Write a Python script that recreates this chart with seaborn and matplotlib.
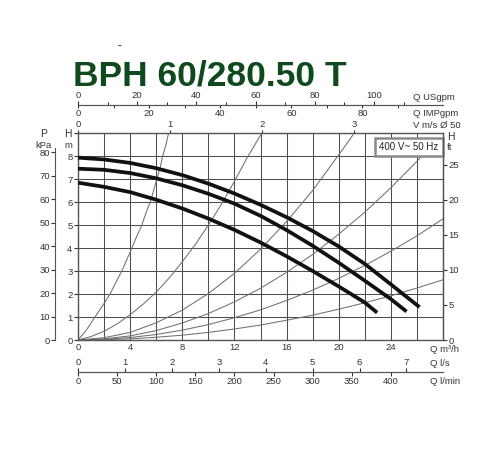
import numpy as np
import pandas as pd
import matplotlib
matplotlib.use("Agg")
import matplotlib.pyplot as plt
import seaborn as sns

# ==========================================
# DATA
# ==========================================
TITLE = "BPH 60/280.50 T"
SUPPLY = "400 V~ 50 Hz"

# pump curves: Q [m3/h] -> H [m]
Q_HIGH = [0, 2, 4, 6, 8, 10, 12, 14, 16, 18, 20, 22, 24, 26.2]
H_HIGH = [7.93, 7.85, 7.70, 7.47, 7.17, 6.80, 6.37, 5.88, 5.34, 4.74, 4.07, 3.31, 2.42, 1.43]
Q_MID = [0, 2, 4, 6, 8, 10, 12, 14, 16, 18, 20, 22, 24, 25.2]
H_MID = [7.45, 7.40, 7.26, 7.03, 6.73, 6.36, 5.93, 5.40, 4.78, 4.10, 3.36, 2.58, 1.78, 1.24]
Q_LOW = [0, 2, 4, 6, 8, 10, 12, 14, 16, 18, 20, 22, 22.95]
H_LOW = [6.84, 6.66, 6.43, 6.10, 5.72, 5.28, 4.79, 4.24, 3.64, 3.00, 2.33, 1.63, 1.19]

# thin system curves
SYS_Q1 = [0, 0.6, 1.3, 1.9, 2.46, 2.9, 3.36, 3.75, 4.13, 4.5, 4.9, 5.2, 5.54, 5.8, 6.05, 6.3, 6.5, 6.75, 6.95]
SYS_H1 = [0, 0.4, 1.0, 1.5, 2.0, 2.5, 3.0, 3.5, 4.0, 4.5, 5.0, 5.5, 6.0, 6.5, 7.0, 7.5, 8.0, 8.5, 9.0]
SYS_Q2 = [0, 1, 2, 3, 4, 5, 6, 7, 8, 9, 10, 11, 12, 13, 14.1]
SYS_H2 = [0, 0.15, 0.38, 0.70, 1.10, 1.56, 2.08, 2.70, 3.40, 4.15, 5.00, 5.90, 6.90, 7.95, 9.0]
SYS_Q3 = [0, 2, 4, 6, 8, 10, 12, 14, 16, 18, 20, 21.2]
SYS_H3 = [0, 0.10, 0.33, 0.75, 1.30, 2.02, 2.90, 3.95, 5.15, 6.50, 8.05, 9.0]
SYS_Q4 = [0, 2, 4, 6, 8, 10, 12, 14, 16, 18, 20, 22, 24, 26, 27.2]
SYS_H4 = [0, 0.05, 0.18, 0.41, 0.74, 1.15, 1.66, 2.25, 2.94, 3.72, 4.60, 5.56, 6.62, 7.77, 8.5]
SYS_Q5 = [0, 2, 4, 6, 8, 10, 12, 14, 16, 18, 20, 22, 24, 26, 28]
SYS_H5 = [0, 0.03, 0.11, 0.24, 0.43, 0.67, 0.97, 1.31, 1.72, 2.17, 2.68, 3.24, 3.86, 4.53, 5.27]
SYS_Q6 = [0, 2, 4, 6, 8, 10, 12, 14, 16, 18, 20, 22, 24, 26, 28]
SYS_H6 = [0, 0.013, 0.05, 0.12, 0.21, 0.33, 0.48, 0.65, 0.86, 1.08, 1.34, 1.62, 1.92, 2.26, 2.62]

# axis ticks
Q_TICKS = list(range(0, 29, 2))
Q_LABELS = [str(v) if v % 4 == 0 and v <= 24 else "" for v in Q_TICKS]
H_TICKS = list(range(0, 10))
H_LABELS = [str(v) if v <= 8 else "" for v in H_TICKS]
FT_TICKS = [0, 5, 10, 15, 20, 25]
KPA_TICKS = [0, 10, 20, 30, 40, 50, 60, 70, 80]
USGPM_TICKS = [0, 20, 40, 60, 80, 100]
USGPM_MINOR = [10, 30, 50, 70, 90, 110]
IMPGPM_TICKS = [0, 20, 40, 60, 80]
IMPGPM_MINOR = [10, 30, 50, 70, 90]
VEL_TICKS = [0, 1, 2, 3]
LS_TICKS = [0, 1, 2, 3, 4, 5, 6, 7]
LMIN_TICKS = [0, 50, 100, 150, 200, 250, 300, 350, 400]

# ==========================================
# UNIT CONVERSIONS
# ==========================================
PIPE_AREA = np.pi * 0.025 ** 2  # DN50


def to_us(q): return q * 4.40287
def from_us(g): return g / 4.40287
def to_imp(q): return q * 3.66615
def from_imp(g): return g / 3.66615
def to_vel(q): return q / 3600.0 / PIPE_AREA
def from_vel(v): return v * 3600.0 * PIPE_AREA
def to_ls(q): return q / 3.6
def from_ls(v): return v * 3.6
def to_lmin(q): return q * 1000.0 / 60.0
def from_lmin(v): return v * 60.0 / 1000.0


# ==========================================
# STYLE
# ==========================================
sns.set_style("white")
plt.rcParams['font.family'] = ['Liberation Sans', 'DejaVu Sans']
FS = 6.8
TXT_C = "#333333"
GRID_C = "#4d4d4d"
SPINE_C = "#555555"
SYS_C = "#707070"

fig = plt.figure(figsize=(5, 4.5), dpi=100)
ax = fig.add_axes([0.156, 0.2444, 0.730, 0.460])
ax.set_xlim(0, 28)
ax.set_ylim(0, 9)

# system curves
sys_sets = [(SYS_Q1, SYS_H1), (SYS_Q2, SYS_H2), (SYS_Q3, SYS_H3),
            (SYS_Q4, SYS_H4), (SYS_Q5, SYS_H5), (SYS_Q6, SYS_H6)]
for q, h in sys_sets:
    sns.lineplot(x=q, y=h, ax=ax, color=SYS_C, linewidth=0.75, sort=False, zorder=2)

# pump curves
for q, h in [(Q_HIGH, H_HIGH), (Q_MID, H_MID), (Q_LOW, H_LOW)]:
    sns.lineplot(x=q, y=h, ax=ax, color="#111111", linewidth=2.7, sort=False,
                 zorder=4, solid_capstyle="butt", solid_joinstyle="round")

ax.set_xticks(Q_TICKS)
ax.set_xticklabels(Q_LABELS)
ax.set_yticks(H_TICKS)
ax.set_yticklabels(H_LABELS)
ax.grid(True, color=GRID_C, linewidth=0.75)
ax.set_axisbelow(True)
ax.tick_params(axis="x", length=0, pad=2, labelsize=FS, colors=TXT_C)
ax.tick_params(axis="y", direction="out", length=3, width=0.8, pad=1,
               labelsize=FS, colors=TXT_C, left=True)
for s in ax.spines.values():
    s.set_color(SPINE_C)
    s.set_linewidth(1.0)
ax.set_xlabel("")
ax.set_ylabel("")

# right axis: H ft
axr = ax.twinx()
axr.set_ylim(0, 9 / 0.3048)
axr.set_yticks(FT_TICKS)
axr.tick_params(axis="y", direction="out", length=3, width=0.8, pad=1,
                labelsize=FS, colors=TXT_C)
for s in axr.spines.values():
    s.set_visible(False)
axr.spines["right"].set_visible(True)
axr.spines["right"].set_color(SPINE_C)

# left offset axis: P kPa
axp = ax.twinx()
axp.set_ylim(0, 9 * 9.80665)
axp.yaxis.set_ticks_position("left")
axp.set_yticks(KPA_TICKS)
for s in axp.spines.values():
    s.set_visible(False)
axp.spines["left"].set_visible(True)
axp.spines["left"].set_position(("axes", -0.062))
axp.spines["left"].set_bounds(0, 82)
axp.spines["left"].set_color(SPINE_C)
axp.tick_params(axis="y", direction="out", length=3, width=0.8, pad=1,
                labelsize=FS, colors=TXT_C, left=True, right=False,
                labelleft=True, labelright=False)

# top: velocity
sec_v = ax.secondary_xaxis("top", functions=(to_vel, from_vel))
sec_v.set_xticks(VEL_TICKS)
sec_v.tick_params(direction="out", length=2.5, width=0.8, pad=0.5,
                  labelsize=FS, colors=TXT_C)
sec_v.spines["top"].set_visible(False)

# top: USgpm (above line) and IMPgpm (below line)
gpm_pos = (340 - 105) / 207.0
sec_us = ax.secondary_xaxis(gpm_pos, functions=(to_us, from_us))
sec_us.set_xticks(USGPM_TICKS)
sec_us.set_xticks(USGPM_MINOR, minor=True)
sec_us.tick_params(which="major", direction="out", length=3, width=0.8, pad=0.5,
                   labelsize=FS, colors=TXT_C)
sec_us.tick_params(which="minor", direction="out", length=2, width=0.7)
sec_us.spines["top"].set_color(SPINE_C)

sec_imp = ax.secondary_xaxis(gpm_pos, functions=(to_imp, from_imp))
sec_imp.set_alignment("bottom")
sec_imp.set_xticks(IMPGPM_TICKS)
sec_imp.set_xticks(IMPGPM_MINOR, minor=True)
sec_imp.tick_params(which="major", direction="out", length=2.5, width=0.8, pad=0.5,
                    labelsize=FS, colors=TXT_C)
sec_imp.tick_params(which="minor", direction="out", length=2, width=0.7)
sec_imp.spines["bottom"].set_color(SPINE_C)

# bottom: l/s (above line) and l/min (below line)
flow_pos = (340 - 372) / 207.0
sec_lmin = ax.secondary_xaxis(flow_pos, functions=(to_lmin, from_lmin))
sec_lmin.set_xticks(LMIN_TICKS)
sec_lmin.tick_params(direction="out", length=3, width=0.8, pad=0.5,
                     labelsize=FS, colors=TXT_C)
sec_lmin.spines["bottom"].set_color(SPINE_C)

sec_ls = ax.secondary_xaxis(flow_pos, functions=(to_ls, from_ls))
sec_ls.set_alignment("top")
sec_ls.set_xticks(LS_TICKS)
sec_ls.tick_params(direction="out", length=3, width=0.8, pad=0.5,
                   labelsize=FS, colors=TXT_C)
sec_ls.spines["top"].set_color(SPINE_C)


# ==========================================
# TEXTS
# ==========================================
def px_text(x, y, s, size=FS, **kw):
    fig.text(x / 500.0, 1 - y / 450.0, s, fontsize=size, color=TXT_C, **kw)


px_text(430, 350, "Q m³/h", ha="left", va="center")
px_text(430, 363, "Q l/s", ha="left", va="center")
px_text(430, 381, "Q l/min", ha="left", va="center")
px_text(413, 97, "Q USgpm", ha="left", va="center")
px_text(413, 113, "Q IMPgpm", ha="left", va="center")
px_text(413, 125, "V m/s Ø 50", ha="left", va="center")
px_text(68, 134, "H", size=7.5, ha="center", va="center")
px_text(68, 145, "m", ha="center", va="center")
px_text(44, 134, "P", size=7.5, ha="center", va="center")
px_text(44, 145, "kPa", ha="center", va="center")
px_text(447, 137, "H", size=7.5, ha="left", va="center")
px_text(447, 148, "ft", ha="left", va="center")

ax.text(0.907, 0.932, SUPPLY, transform=ax.transAxes, ha="center", va="center",
        fontsize=7, color="#222222", zorder=6,
        bbox=dict(boxstyle="square,pad=0.45", facecolor="white",
                  edgecolor="#8a8a8a", linewidth=1.8))

fig.text(73 / 500.0, 1 - 85 / 450.0, TITLE, ha="left", va="baseline",
         fontsize=25.5, fontweight="bold", color="#0f4a1e")
fig.text(120 / 500.0, 1 - 46 / 450.0, "-", ha="center", va="center",
         fontsize=8, fontweight="bold", color=TXT_C)

fig.savefig("out.png", dpi=100)
